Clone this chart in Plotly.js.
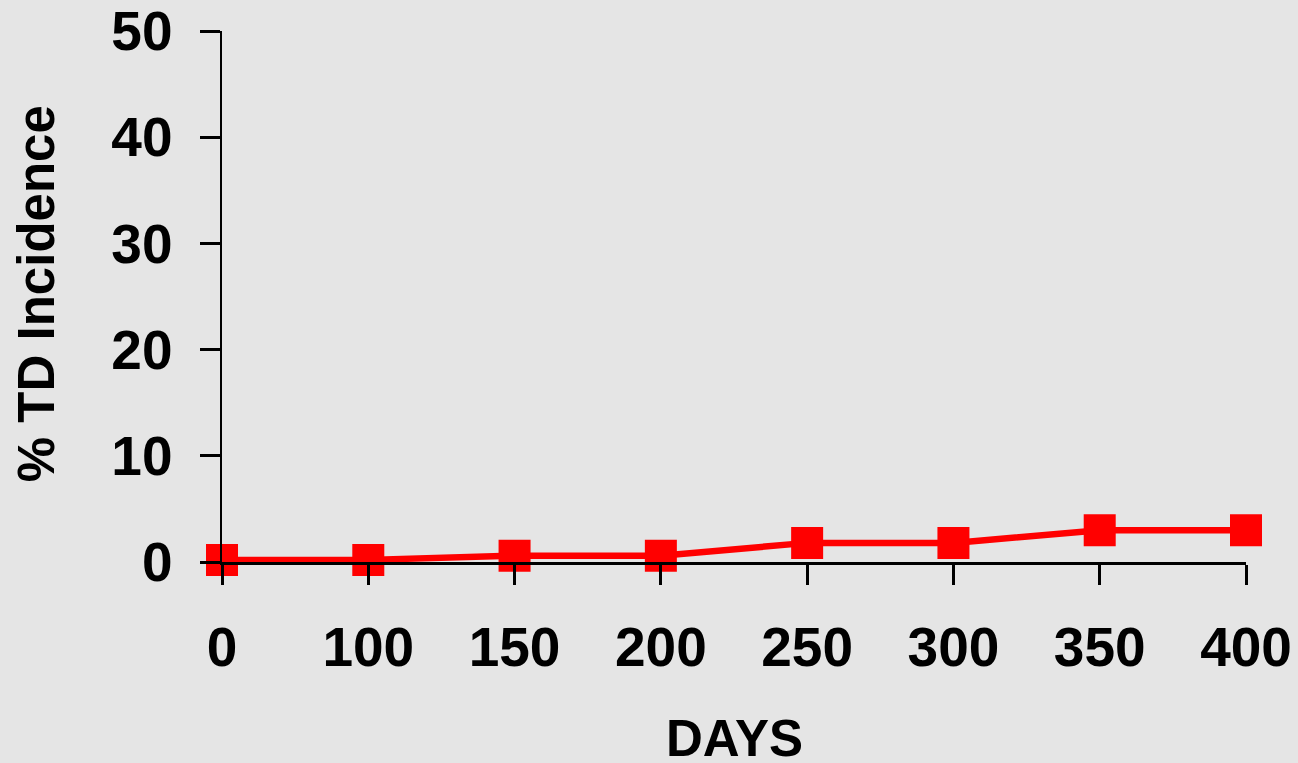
<!DOCTYPE html>
<html>
<head>
<meta charset="utf-8">
<script src="https://cdn.plot.ly/plotly-3.0.1.min.js"></script>
<style>
html,body{margin:0;padding:0;background:#e5e5e5;}
#chart{width:1298px;height:763px;}
</style>
</head>
<body>
<div id="chart"></div>
<script>
const days = ['0','100','150','200','250','300','350','400'];
const tdIncidence = [0.2, 0.2, 0.6, 0.6, 1.8, 1.8, 3.0, 3.0];
const yTicks = [0, 10, 20, 30, 40, 50];
const xTitle = 'DAYS';
const yTitle = '% TD Incidence';

const fontFamily = '"Liberation Sans", Arial, sans-serif';
const titleFont = {family: fontFamily, size: 51, color: '#000000', weight: 'bold'};

const trace = {
  x: days,
  y: tdIncidence,
  type: 'scatter',
  mode: 'lines+markers',
  line: {color: '#ff0000', width: 6.5},
  marker: {symbol: 'square', size: 32, color: '#ff0000'},
  cliponaxis: false,
  hoverinfo: 'x+y'
};

const layout = {
  width: 1298,
  height: 763,
  paper_bgcolor: '#e5e5e5',
  plot_bgcolor: '#e5e5e5',
  margin: {l: 222, r: 52, t: 31, b: 201, pad: 0},
  showlegend: false,
  font: {family: fontFamily, color: '#000000', weight: 'bold'},
  xaxis: {
    type: 'category',
    range: [0, days.length - 1],
    showgrid: false,
    zeroline: false,
    showline: true,
    linecolor: '#000000',
    linewidth: 2.5,
    ticks: 'outside',
    ticklen: 20,
    tickwidth: 3,
    tickcolor: '#000000',
    ticklabelstandoff: 15,
    tickfont: {family: fontFamily, size: 55, color: '#000000', weight: 'bold'},
    automargin: false
  },
  yaxis: {
    range: [0, 50],
    tickvals: yTicks,
    ticktext: yTicks.map(String),
    showgrid: false,
    zeroline: false,
    showline: true,
    linecolor: '#000000',
    linewidth: 2.5,
    ticks: 'outside',
    ticklen: 20,
    tickwidth: 3,
    tickcolor: '#000000',
    ticklabelstandoff: 16,
    tickfont: {family: fontFamily, size: 55, color: '#000000', weight: 'bold'},
    automargin: false
  },
  annotations: [
    {
      text: xTitle, xref: 'paper', yref: 'paper', x: 0.5, y: -0.333,
      xanchor: 'center', yanchor: 'middle', showarrow: false, font: titleFont
    },
    {
      text: yTitle, xref: 'paper', yref: 'paper', x: -0.1815, y: 0.5047,
      xanchor: 'center', yanchor: 'middle', showarrow: false, textangle: -90, font: titleFont
    }
  ]
};

Plotly.newPlot('chart', [trace], layout, {displayModeBar: false, staticPlot: true});
</script>
</body>
</html>
